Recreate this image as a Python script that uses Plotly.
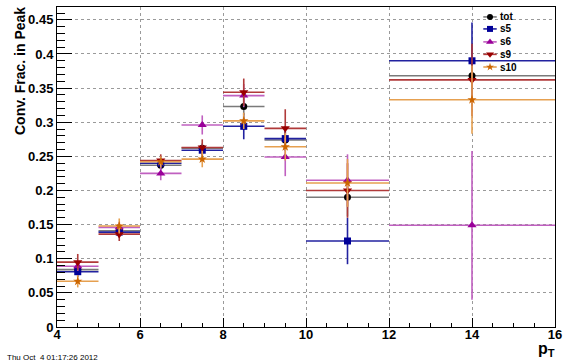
import plotly.graph_objects as go

# ---- data ----
bin_centers = [4.5, 5.5, 6.5, 7.5, 8.5, 9.5, 11.0, 14.0]
bin_half_widths = [0.5, 0.5, 0.5, 0.5, 0.5, 0.5, 1.0, 2.0]

series_names = ["tot", "s5", "s6", "s9", "s10"]

tot_vals = [0.084, 0.141, 0.237, 0.262, 0.323, 0.274, 0.190, 0.368]
tot_errs = [0.006, 0.006, 0.007, 0.007, 0.012, 0.014, 0.028, 0.045]

s5_vals = [0.081, 0.139, 0.240, 0.259, 0.294, 0.276, 0.126, 0.390]
s5_errs = [0.008, 0.008, 0.008, 0.008, 0.019, 0.018, 0.034, 0.056]

s6_vals = [0.089, 0.146, 0.225, 0.296, 0.339, 0.249, 0.215, 0.149]
s6_errs = [0.007, 0.008, 0.010, 0.014, 0.017, 0.028, 0.038, 0.109]

s9_vals = [0.095, 0.136, 0.244, 0.263, 0.344, 0.291, 0.200, 0.362]
s9_errs = [0.012, 0.010, 0.009, 0.012, 0.020, 0.028, 0.040, 0.053]

s10_vals = [0.067, 0.148, 0.242, 0.246, 0.302, 0.264, 0.211, 0.333]
s10_errs = [0.009, 0.011, 0.008, 0.012, 0.012, 0.020, 0.035, 0.050]

x_tick_vals = [4, 6, 8, 10, 12, 14, 16]
y_tick_vals = [0, 0.05, 0.1, 0.15, 0.2, 0.25, 0.3, 0.35, 0.4, 0.45]
y_tick_text = ["0", "0.05", "0.1", "0.15", "0.2", "0.25", "0.3", "0.35", "0.4", "0.45"]

# ---- styles ----
styles = {
    "tot": dict(mcol="#000000", lcol="#7a7a7a", sym="circle", size=7),
    "s5": dict(mcol="#000099", lcol="#2222a0", sym="square", size=7),
    "s6": dict(mcol="#990099", lcol="#c060c0", sym="triangle-up", size=8),
    "s9": dict(mcol="#990000", lcol="#b03a3a", sym="triangle-down", size=8),
    "s10": dict(mcol="#cc6600", lcol="#e6a050", sym="star", size=7),
}
vals = {"tot": (tot_vals, tot_errs), "s5": (s5_vals, s5_errs), "s6": (s6_vals, s6_errs),
        "s9": (s9_vals, s9_errs), "s10": (s10_vals, s10_errs)}

FONT = "Liberation Sans"
L, R, T, B, W, H = 57, 12, 7, 37, 567, 364
PW, PH = W - L - R, H - T - B

fig = go.Figure()

for name in series_names:
    v, e = vals[name]
    st = styles[name]
    fig.add_trace(go.Scatter(
        x=bin_centers, y=v, mode="markers", name=name, showlegend=False,
        marker=dict(symbol=st["sym"], size=st["size"], color=st["mcol"], line=dict(width=0)),
        error_x=dict(type="data", array=bin_half_widths, width=0, thickness=1.6, color=st["lcol"]),
        error_y=dict(type="data", array=e, width=0, thickness=1.6, color=st["lcol"]),
    ))

# ---- custom compact legend on an overlay axis (0..1) ----
leg_x = 0.8695
leg_half = 0.0135
leg_rows = [0.969, 0.9315, 0.891, 0.852, 0.8125]
for name, yr in zip(series_names, leg_rows):
    st = styles[name]
    fig.add_trace(go.Scatter(
        x=[leg_x], y=[yr], xaxis="x2", yaxis="y2", mode="markers", showlegend=False,
        hoverinfo="skip",
        marker=dict(symbol=st["sym"], size=st["size"] - 1, color=st["mcol"], line=dict(width=0)),
        error_x=dict(type="constant", value=leg_half, width=0, thickness=1.6, color=st["lcol"]),
    ))
    fig.add_annotation(x=leg_x + 0.017, y=yr, xref="paper", yref="paper", text=name,
                       showarrow=False, xanchor="left", yanchor="middle",
                       font=dict(family=FONT, size=10, color="black", weight="bold"))

fig.update_layout(
    width=W, height=H,
    margin=dict(l=L, r=R, t=T, b=B, autoexpand=False),
    paper_bgcolor="white", plot_bgcolor="white",
    showlegend=False,
    xaxis=dict(
        range=[4, 16], tickvals=x_tick_vals, ticks="inside", ticklen=9, tickwidth=1,
        tickcolor="black", showline=True, linecolor="black", linewidth=1, mirror=True,
        showgrid=True, gridcolor="#9a9a9a", griddash="dot", gridwidth=1, zeroline=False,
        automargin=False, ticklabelstandoff=-5,
        tickfont=dict(family=FONT, size=13, color="black", weight="bold"),
        minor=dict(ticks="inside", ticklen=4.5, dtick=0.5, tickcolor="black", showgrid=False),
    ),
    yaxis=dict(
        range=[0, 0.4688], tickvals=y_tick_vals, ticktext=y_tick_text, ticks="inside",
        ticklen=15, tickwidth=1, tickcolor="black", showline=True, linecolor="black",
        linewidth=1, mirror=True, showgrid=True, gridcolor="#9a9a9a", griddash="dot",
        gridwidth=1, zeroline=False, automargin=False,
        tickfont=dict(family=FONT, size=13, color="black", weight="bold"),
        minor=dict(ticks="inside", ticklen=7.5, dtick=0.01, tickcolor="black", showgrid=False),
    ),
    xaxis2=dict(range=[0, 1], overlaying="x", visible=False, fixedrange=True),
    yaxis2=dict(range=[0, 1], overlaying="y", visible=False, fixedrange=True),
)

# axis titles and date stamp (positions given in pixels, converted to paper coords)
def px(xp):
    return (xp - L) / PW

def py(yp):
    return (H - B - yp) / PH

fig.add_annotation(x=px(20), y=py(5), xref="paper", yref="paper", text="Conv. Frac. in Peak",
                   textangle=-90, showarrow=False, xanchor="center", yanchor="top",
                   font=dict(family=FONT, size=14, color="black", weight="bold"))
fig.add_annotation(x=px(557), y=py(361), xref="paper", yref="paper", text="p<sub>T</sub>",
                   showarrow=False, xanchor="right", yanchor="bottom",
                   font=dict(family=FONT, size=16, color="black", weight="bold"))
fig.add_annotation(x=px(5), y=py(357), xref="paper", yref="paper",
                   text="Thu Oct  4 01:17:26 2012",
                   showarrow=False, xanchor="left", yanchor="middle",
                   font=dict(family=FONT, size=8, color="black"))

fig.write_html("out.html", config={"displayModeBar": False},
               post_script="document.body.style.margin='0px';")
